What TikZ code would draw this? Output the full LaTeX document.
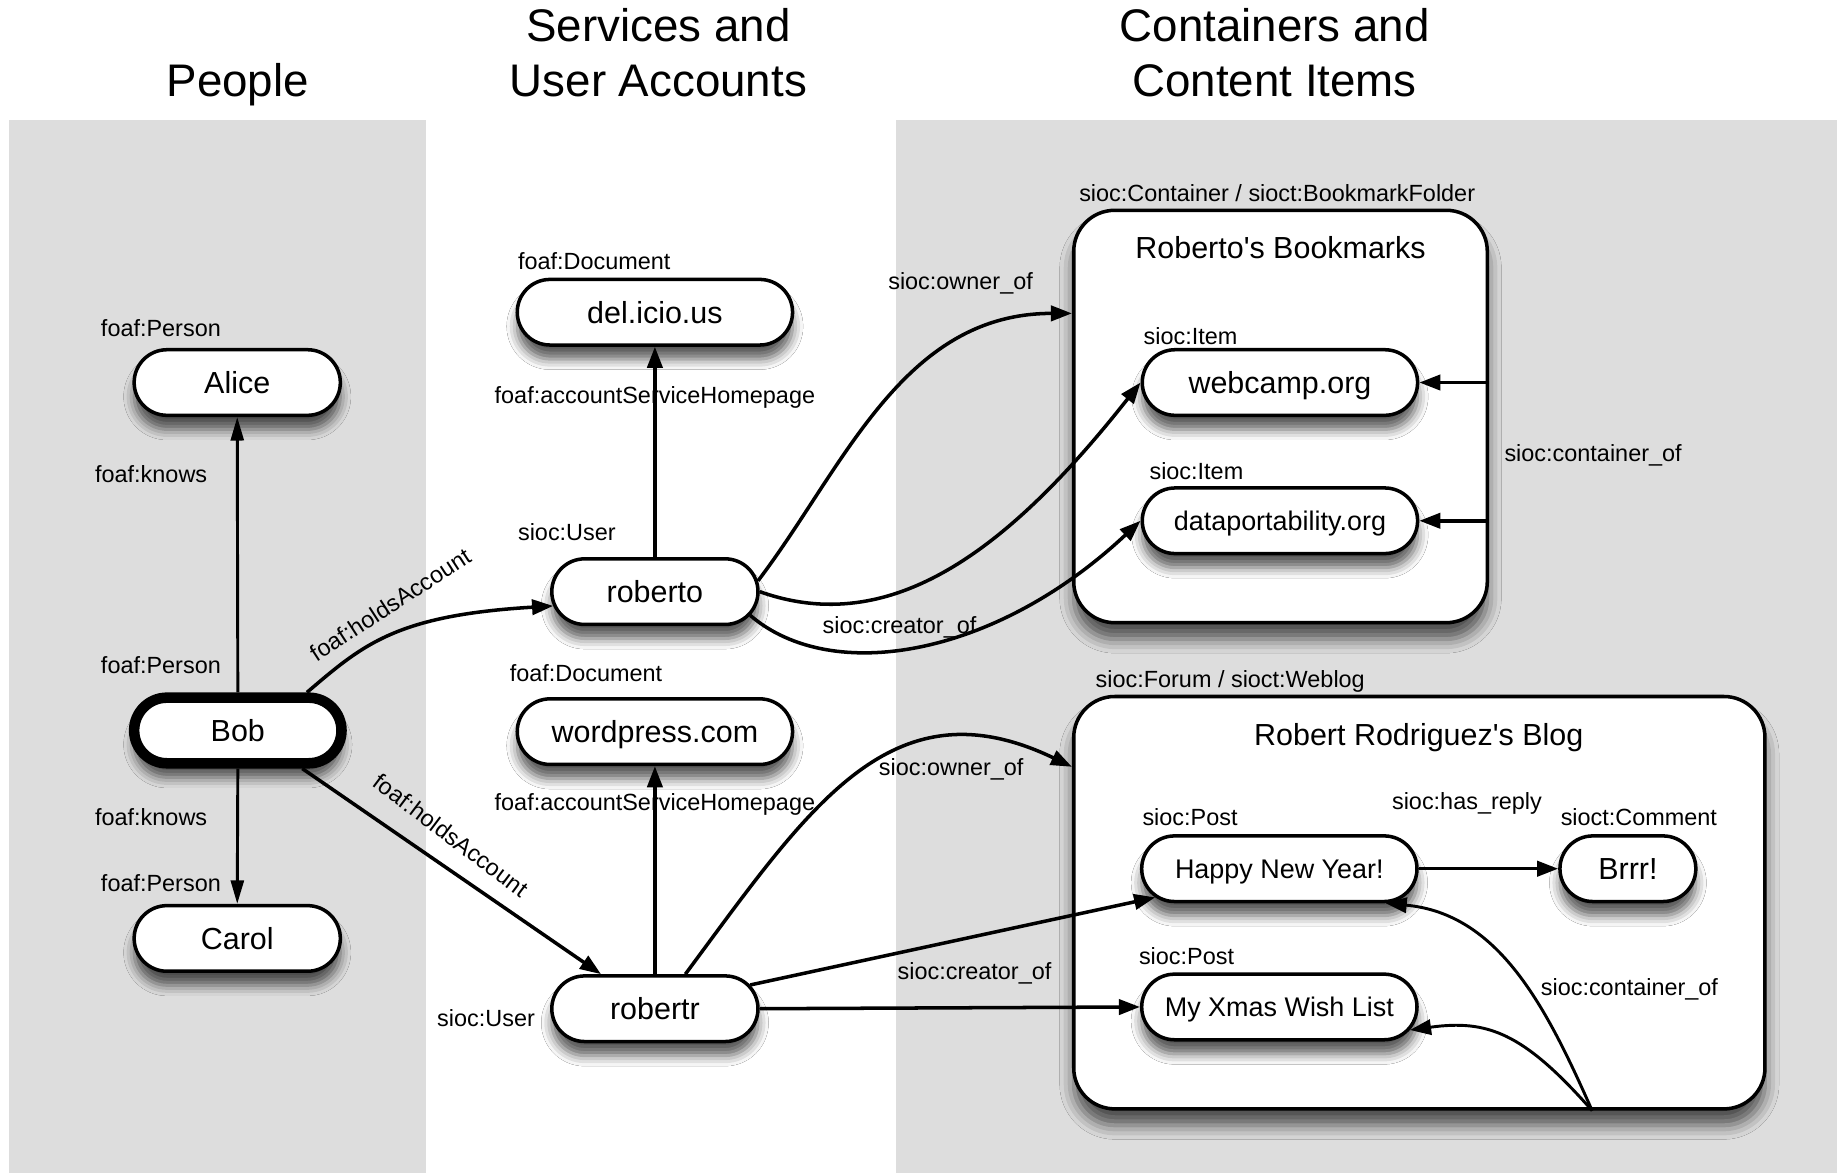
\documentclass[tikz,border=0pt]{standalone}
\usepackage{fontspec}
\setmainfont{Liberation Sans}
\usetikzlibrary{shapes.misc,arrows.meta,shadows.blur}
\definecolor{panelgray}{RGB}{221,221,221}
\newcommand{\myNodeFont}{\fontsize{26}{31}\selectfont}
\newcommand{\mySmallNodeFont}{\fontsize{23}{28}\selectfont}
\newcommand{\myLabelFont}{\fontsize{20}{24}\selectfont}
\newcommand{\myTitleFont}{\fontsize{39}{47}\selectfont}
\begin{document}
\begin{tikzpicture}[x=1pt,y=-1pt,
  pill/.style={rounded rectangle, draw=black, line width=3pt, fill=white,
    minimum width=176pt, minimum height=56pt, inner sep=0pt, font=\myNodeFont,
    text height=18.6pt, text depth=0pt,
    blur shadow={shadow xshift=0pt, shadow yshift=-12pt, shadow blur radius=9pt, shadow opacity=65}},
  widepill/.style={pill, minimum width=235pt},
  smalltext/.style={font=\mySmallNodeFont, text height=16.5pt},
  container/.style={draw=black, line width=3pt, fill=white, rounded corners=35pt, inner sep=0pt,
    blur shadow={shadow xshift=0pt, shadow yshift=-14pt, shadow blur radius=12pt, shadow opacity=65}},
  lbl/.style={font=\myLabelFont, inner sep=0pt, anchor=base west},
  lblc/.style={font=\myLabelFont, inner sep=0pt, anchor=base},
  ttl/.style={font=\myTitleFont, inner sep=0pt, anchor=base},
  hdr/.style={font=\myNodeFont, inner sep=0pt, anchor=base},
  arr/.style={line width=3pt, -{Triangle[length=18pt,width=13pt]}},
  thinarr/.style={line width=2.5pt, -{Triangle[length=20pt,width=11pt]}},
]
\useasboundingbox (0,0) rectangle (1568,1001);
\fill[white] (0,0) rectangle (1568,1001);
\fill[panelgray] (8,102) rectangle (364,1001);
\fill[panelgray] (765,102) rectangle (1568,1001);

% titles
\node[ttl] (tPeople) at (203,82) {People};
\node[ttl] (tServA) at (562,35) {Services and};
\node[ttl] (tServB) at (562,82) {User Accounts};
\node[ttl] (tContA) at (1088,35) {Containers and};
\node[ttl] (tContB) at (1088,82) {Content Items};

% containers
\node[container, minimum width=353pt, minimum height=352pt] (bm) at (1093,355.5) {};
\node[container, minimum width=590pt, minimum height=352pt] (blog) at (1211.5,770.5) {};
\node[hdr] (bmtitle) at (1093,221) {Roberto\textquotesingle s Bookmarks};
\node[hdr] (blogtitle) at (1211,636) {Robert Rodriguez\textquotesingle s Blog};

% pill nodes
\node[pill] (alice) at (202.5,326.5) {Alice};
\node[pill, line width=9pt, minimum width=177pt] (bob) at (203,623.5) {Bob};
\node[pill] (carol) at (202.5,801) {Carol};
\node[widepill] (del) at (559,266.5) {del.icio.us};
\node[pill] (roberto) at (559,505) {roberto};
\node[widepill] (wp) at (559,624.5) {wordpress.com};
\node[pill] (robertr) at (559,861) {robertr};
\node[widepill] (webcamp) at (1092.5,326.5) {webcamp.org};
\node[widepill, smalltext] (data) at (1092.5,444.5) {dataportability.org};
\node[widepill, smalltext] (hny) at (1092,741.5) {Happy New Year!};
\node[pill, minimum width=116pt] (brrr) at (1389.5,741.5) {Brrr!};
\node[widepill, smalltext] (xmas) at (1092,859.5) {My Xmas Wish List};

% type labels
\node[lbl] (lpA) at (86,287) {foaf:Person};
\node[lbl] (lkA) at (81,412) {foaf:knows};
\node[lbl] (lpB) at (86,575) {foaf:Person};
\node[lbl] (lkB) at (81,705) {foaf:knows};
\node[lbl] (lpC) at (86,761) {foaf:Person};
\node[lbl] (ldA) at (442,230) {foaf:Document};
\node[lbl] (luA) at (442,461) {sioc:User};
\node[lbl] (ldB) at (435,582) {foaf:Document};
\node[lbl] (luB) at (373,876) {sioc:User};
\node[lblc] (lhA) at (559,344) {foaf:accountServiceHomepage};
\node[lblc] (lhB) at (559,692) {foaf:accountServiceHomepage};
\node[font=\myLabelFont, inner sep=0pt, rotate=33] (lhaA) at (333,516) {foaf:holdsAccount};
\node[font=\myLabelFont, inner sep=0pt, rotate=-37] (lhaB) at (385,713) {foaf:holdsAccount};
\node[lbl] (loA) at (758,247) {sioc:owner\_of};
\node[lbl] (lcA) at (702,541) {sioc:creator\_of};
\node[lbl] (lbmT) at (921,172) {sioc:Container / sioct:BookmarkFolder};
\node[lbl] (liA) at (976,294) {sioc:Item};
\node[lbl] (liB) at (981,409) {sioc:Item};
\node[lbl] (lcoA) at (1284,394) {sioc:container\_of};
\node[lbl] (lblogT) at (935,587) {sioc:Forum / sioct:Weblog};
\node[lbl] (loB) at (750,662) {sioc:owner\_of};
\node[lbl] (lrep) at (1188,691) {sioc:has\_reply};
\node[lbl] (lpostA) at (975,705) {sioc:Post};
\node[lbl] (lcom) at (1332,705) {sioct:Comment};
\node[lbl] (lcB) at (766,836) {sioc:creator\_of};
\node[lbl] (lpostB) at (972,823) {sioc:Post};
\node[lbl] (lcoB) at (1315,850) {sioc:container\_of};

% connectors
\draw[thinarr] (bob.north) -- (alice.south);
\draw[thinarr] (bob.south) -- (carol.north);
\draw[arr] ([xshift=59pt]bob.north) .. controls +(48,-41) and +(-134,8) .. (roberto.188);
\draw[arr] ([xshift=55pt]bob.south) -- ([xshift=-46pt]robertr.north);
\draw[arr] (roberto.north) -- (del.south);
\draw[arr] (robertr.north) -- (wp.south);
\draw[arr] (roberto.6) .. controls +(73,-96) and +(-145,0) .. ([yshift=88pt]bm.west);
\draw[arr] (roberto.east) .. controls +(112,40) and +(-113,143.5) .. (webcamp.west);
\draw[arr] (roberto.-14) .. controls +(70,60) and +(-123,115.5) .. (data.west);
\draw[arr] ([xshift=26pt]robertr.north) .. controls +(105,-141.5) and +(-155,-74.5) .. ([yshift=116pt]blog.west);
\draw[arr] (robertr.14) -- (hny.193);
\draw[arr] (robertr.east) -- (xmas.west);
\draw[arr] (bm.east |- webcamp.east) -- (webcamp.east);
\draw[arr] (bm.east |- data.east) -- (data.east);
\draw[arr] (hny.east) -- (brrr.west);
\draw[arr, line width=2.5pt] ([xshift=147.5pt]blog.south) .. controls +(-39,-88) and +(97,9) .. (hny.-18);
\draw[arr, line width=2.5pt] ([xshift=147.5pt]blog.south) .. controls +(-59,-67) and +(66,-9) .. (xmas.-10);
\end{tikzpicture}
\end{document}
